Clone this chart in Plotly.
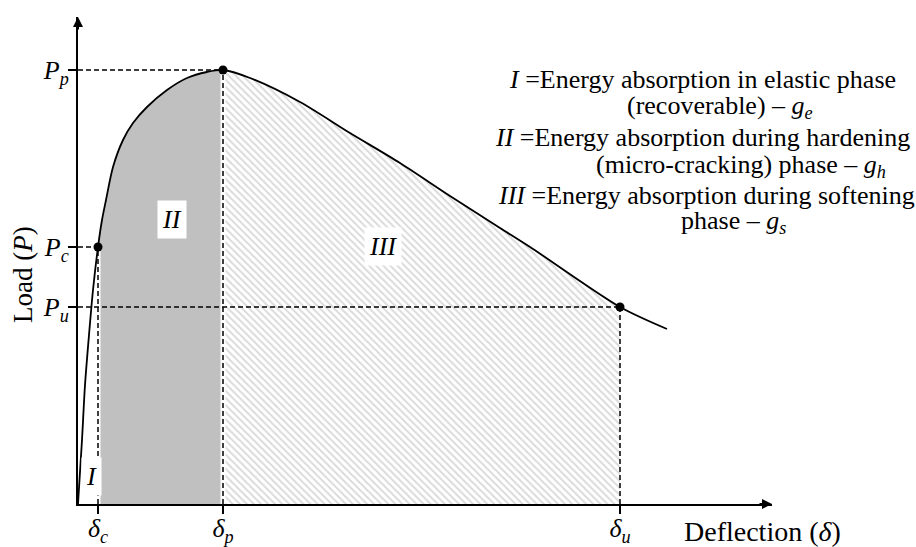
import plotly.graph_objects as go

# Load–deflection curve (arbitrary units)
deflection = [0.00, 0.04, 0.07, 0.11, 0.15, 0.20, 0.24, 0.28, 0.35, 0.45, 0.55,
              0.69, 0.89, 1.09, 1.29, 1.45, 1.72, 2.22, 2.72, 3.22, 3.72, 4.22,
              4.55, 5.42, 5.89]
load = [0.00, 0.64, 1.19, 1.69, 2.14, 2.57, 2.84, 3.04, 3.37, 3.64, 3.81,
        3.97, 4.14, 4.26, 4.32, 4.34, 4.26, 4.02, 3.71, 3.41, 3.08, 2.76,
        2.55, 1.97, 1.75]

# Characteristic points: cracking, peak, ultimate
d_c, d_p, d_u = 0.20, 1.45, 5.42
P_c, P_p, P_u = 2.57, 4.34, 1.97

x_ticktext = ["<i>δ<sub>c</sub></i>", "<i>δ<sub>p</sub></i>", "<i>δ<sub>u</sub></i>"]
y_ticktext = ["<i>P<sub>u</sub></i>", "<i>P<sub>c</sub></i>", "<i>P<sub>p</sub></i>"]

legend_lines = [
    "<i>I</i> =Energy absorption in elastic phase",
    "(recoverable) – <i>g<sub>e</sub></i>",
    "<i>II</i> =Energy absorption during hardening",
    "(micro-cracking) phase – <i>g<sub>h</sub></i>",
    "<i>III</i> =Energy absorption during softening",
    "phase – <i>g<sub>s</sub></i>",
]

FONT = "Liberation Serif, Times New Roman, serif"
X_MAX, Y_MAX = 6.94, 4.87

fig = go.Figure()

# Region II: hardening (grey)
seg2 = [(x, y) for x, y in zip(deflection, load) if d_c <= x <= d_p]
fig.add_trace(go.Scatter(
    x=[p[0] for p in seg2], y=[p[1] for p in seg2], mode="lines",
    line=dict(width=0, shape="spline", smoothing=0.8), fill="tozeroy",
    fillcolor="#c0c0c0", hoverinfo="skip", showlegend=False))

# Region III: softening (hatched)
seg3 = [(x, y) for x, y in zip(deflection, load) if d_p <= x <= d_u]
fig.add_trace(go.Scatter(
    x=[p[0] for p in seg3], y=[p[1] for p in seg3], mode="lines",
    line=dict(width=0, shape="spline", smoothing=0.8), fill="tozeroy",
    fillpattern=dict(shape="\\", size=5, solidity=0.4,
                     fgcolor="#b5b5b5", bgcolor="white"),
    fillcolor="white", hoverinfo="skip", showlegend=False))

# White gaps behind the vertical guide lines
for xv, yv in [(d_c, P_c), (d_p, P_p)]:
    fig.add_trace(go.Scatter(x=[xv, xv], y=[0, yv], mode="lines",
                             line=dict(color="white", width=5),
                             hoverinfo="skip", showlegend=False))

# Dashed guide lines
guides = [
    ([d_c, d_c], [0, P_c]), ([d_p, d_p], [0, P_p]), ([d_u, d_u], [0, P_u]),
    ([0, d_c], [P_c, P_c]), ([0, d_p], [P_p, P_p]), ([0, d_u], [P_u, P_u]),
]
for gx, gy in guides:
    fig.add_trace(go.Scatter(x=gx, y=gy, mode="lines",
                             line=dict(color="black", width=1.5, dash="5px,3px"),
                             hoverinfo="skip", showlegend=False))

# Load-deflection curve
fig.add_trace(go.Scatter(x=deflection, y=load, mode="lines",
                         line=dict(color="black", width=1.8, shape="spline",
                                   smoothing=0.8),
                         hoverinfo="skip", showlegend=False))

# Characteristic points
fig.add_trace(go.Scatter(x=[d_c, d_p, d_u], y=[P_c, P_p, P_u], mode="markers",
                         marker=dict(color="black", size=9),
                         hoverinfo="skip", showlegend=False))

L, R, T, B = 78, 772, 17, 504


def px(x):
    return (x - L) / (R - L)


def py(y):
    return (B - y) / (B - T)


annotations = []

# Axis arrowheads
annotations.append(dict(x=1, y=0, xref="paper", yref="paper", ax=-14, ay=0,
                        showarrow=True, arrowhead=2, arrowsize=1, arrowwidth=2,
                        arrowcolor="black", text=""))
annotations.append(dict(x=0, y=1, xref="paper", yref="paper", ax=0, ay=14,
                        showarrow=True, arrowhead=2, arrowsize=1, arrowwidth=2,
                        arrowcolor="black", text=""))

# Axis titles
annotations.append(dict(x=px(762), y=py(531), xref="paper", yref="paper",
                        xanchor="center", yanchor="middle",
                        text="Deflection (<i>δ</i>)", showarrow=False,
                        font=dict(family=FONT, size=28, color="black")))
annotations.append(dict(x=px(23), y=py(275), xref="paper", yref="paper",
                        xanchor="center", yanchor="middle",
                        text="Load (<i>P</i>)", showarrow=False, textangle=-90,
                        font=dict(family=FONT, size=27, color="black")))

# Region labels
for txt, cx, cy in [("<i>I</i>", 91, 476), ("<i>II</i>", 172, 219),
                    ("<i>III</i>", 383, 246)]:
    annotations.append(dict(x=px(cx), y=py(cy), xref="paper", yref="paper",
                            xanchor="center", yanchor="middle",
                            text=txt, showarrow=False, bgcolor="white",
                            borderpad=4,
                            font=dict(family=FONT, size=26, color="black")))

# Energy description text (line centres)
legend_cx = [702, 720, 702, 741, 706, 733]
legend_cy = [79, 107, 137, 166, 195, 222]
for txt, lx, ly in zip(legend_lines, legend_cx, legend_cy):
    annotations.append(dict(x=px(lx), y=py(ly), xref="paper", yref="paper",
                            xanchor="center", yanchor="middle", text=txt,
                            showarrow=False,
                            font=dict(family=FONT, size=26, color="black")))

axis_common = dict(showgrid=False, zeroline=False, showline=True,
                   linecolor="black", linewidth=2, ticks="outside",
                   ticklen=8, tickwidth=1.5, tickcolor="black",
                   automargin=False,
                   tickfont=dict(family=FONT, size=26, color="black"))

fig.update_layout(
    width=916, height=547,
    margin=dict(l=L, r=916 - R, t=T, b=547 - B, autoexpand=False),
    paper_bgcolor="white", plot_bgcolor="white",
    xaxis=dict(range=[0, X_MAX], tickvals=[d_c, d_p, d_u],
               ticktext=x_ticktext, ticklabelstandoff=-8, **axis_common),
    yaxis=dict(range=[0, Y_MAX], tickvals=[P_u, P_c, P_p],
               ticktext=y_ticktext, ticklabelstandoff=-6, **axis_common),
    annotations=annotations,
    showlegend=False,
)

fig.write_html("out.html")
